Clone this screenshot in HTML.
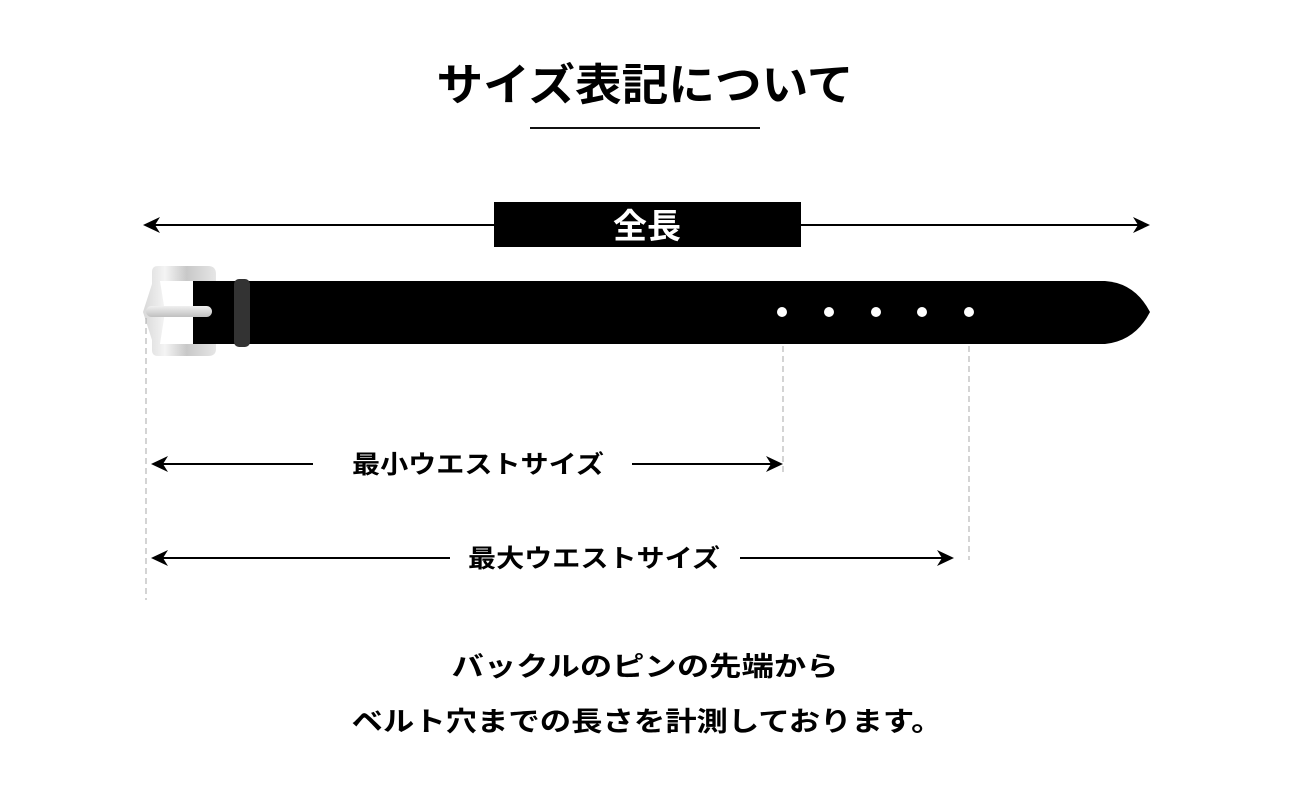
<!DOCTYPE html>
<html><head><meta charset="utf-8"><style>
html,body{margin:0;padding:0;background:#fff;width:1290px;height:800px;overflow:hidden}
svg text{font-family:"Liberation Sans","Noto Sans CJK JP",sans-serif;font-weight:bold}
</style></head><body>
<svg width="1290" height="800" viewBox="0 0 1290 800" xmlns="http://www.w3.org/2000/svg">
<defs>
<linearGradient id="mg" x1="0" y1="0" x2="1" y2="0">
<stop offset="0" stop-color="#d8d8d8"/><stop offset="0.3" stop-color="#f4f4f4"/><stop offset="0.6" stop-color="#c8c8c8"/><stop offset="1" stop-color="#e6e6e6"/>
</linearGradient>
<linearGradient id="pg" x1="0" y1="0" x2="0" y2="1">
<stop offset="0" stop-color="#f0f0f0"/><stop offset="1" stop-color="#c0c0c0"/>
</linearGradient>
</defs>
<text x="645" y="100" font-size="44" text-anchor="middle" textLength="417" lengthAdjust="spacingAndGlyphs">サイズ表記について</text>
<rect x="530" y="127" width="230" height="2" fill="#111"/>

<!-- total length arrow -->
<line x1="150" y1="225" x2="1142" y2="225" stroke="#000" stroke-width="2"/>
<path d="M143 225 L160 217 L155 225 L160 233 Z" fill="#000"/>
<path d="M1150 225 L1133 217 L1138 225 L1133 233 Z" fill="#000"/>
<rect x="494" y="202" width="307" height="45" fill="#000"/>
<text x="647" y="238" font-size="34" fill="#fff" text-anchor="middle">全長</text>

<!-- belt -->
<path d="M193 281 L1105 281 Q1135 283 1150 312 Q1135 341 1105 344 L193 344 Z" fill="#000"/>
<g fill="#fff">
<circle cx="782" cy="312" r="5"/><circle cx="829" cy="312" r="5"/><circle cx="876" cy="312" r="5"/><circle cx="922" cy="312" r="5"/><circle cx="969" cy="312" r="5"/>
</g>
<!-- buckle -->
<path d="M155 266 L208 266 Q216 266 216 274 L216 281 L193 281 L193 344 L216 344 L216 349 Q216 356 208 356 L158 356 Q152 356 152 350 L152 340 L143 312 L152 284 L152 272 Q152 266 158 266 Z" fill="url(#mg)"/>
<path d="M160 281 L193 281 L193 344 L160 344 L165 312 Z" fill="#fff"/>
<rect x="146" y="306" width="66" height="11" rx="5.5" fill="url(#pg)"/>
<rect x="234" y="279" width="16" height="68" rx="5" fill="#333"/>

<!-- dashed guides -->
<g stroke="#aaa" stroke-width="1" stroke-dasharray="6,4">
<line x1="146" y1="318" x2="146" y2="600"/>
<line x1="783" y1="346" x2="783" y2="475"/>
<line x1="969" y1="346" x2="969" y2="560"/>
</g>

<!-- min waist -->
<line x1="158" y1="464" x2="313" y2="464" stroke="#000" stroke-width="2"/>
<line x1="632" y1="464" x2="775" y2="464" stroke="#000" stroke-width="2"/>
<path d="M151 464 L168 456 L163 464 L168 472 Z" fill="#000"/>
<path d="M783 464 L766 456 L771 464 L766 472 Z" fill="#000"/>
<text x="478" y="473" font-size="25" text-anchor="middle" textLength="252" lengthAdjust="spacingAndGlyphs">最小ウエストサイズ</text>

<!-- max waist -->
<line x1="158" y1="558" x2="450" y2="558" stroke="#000" stroke-width="2"/>
<line x1="740" y1="558" x2="946" y2="558" stroke="#000" stroke-width="2"/>
<path d="M151 558 L168 550 L163 558 L168 566 Z" fill="#000"/>
<path d="M954 558 L937 550 L942 558 L937 566 Z" fill="#000"/>
<text x="594" y="567" font-size="25" text-anchor="middle" textLength="252" lengthAdjust="spacingAndGlyphs">最大ウエストサイズ</text>

<text x="645" y="676" font-size="27" text-anchor="middle" textLength="387" lengthAdjust="spacingAndGlyphs">バックルのピンの先端から</text>
<text x="647" y="731" font-size="27" text-anchor="middle" textLength="591" lengthAdjust="spacingAndGlyphs">ベルト穴までの長さを計測しております。</text>
</svg>
</body></html>
